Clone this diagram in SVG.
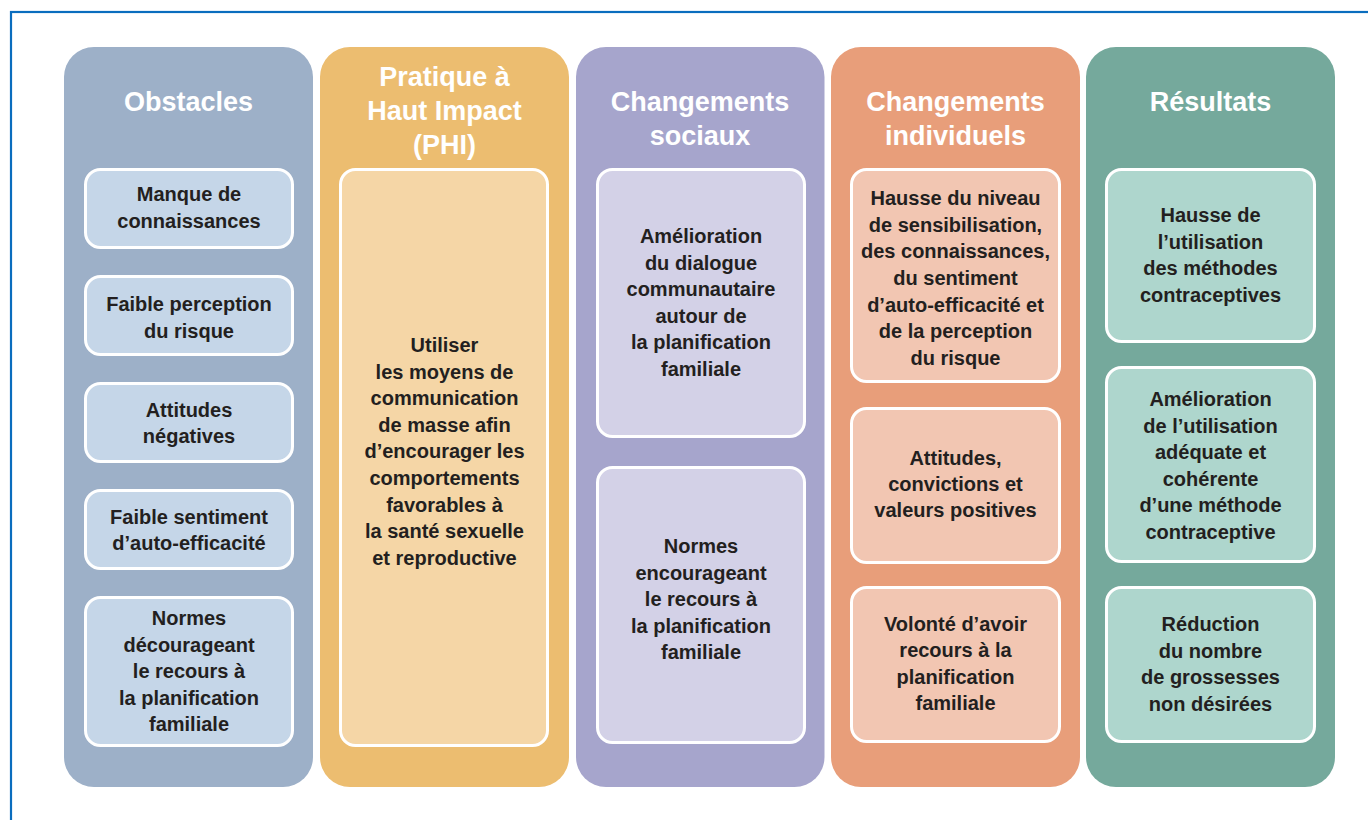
<svg xmlns="http://www.w3.org/2000/svg" width="1368" height="820" viewBox="0 0 1368 820">
<style>
.hd{font-family:"Liberation Sans",Arial,sans-serif;font-weight:bold;font-size:27px;fill:#ffffff;text-anchor:middle}
.tx{font-family:"Liberation Sans",Arial,sans-serif;font-weight:bold;font-size:20px;fill:#231f20;text-anchor:middle}
.box{stroke:#ffffff;stroke-width:3}
.c1{fill:#9db0c8}.b1{fill:#c5d6e8}
.c2{fill:#ecbd70}.b2{fill:#f5d6a6}
.c3{fill:#a6a5cc}.b3{fill:#d3d1e7}
.c4{fill:#e89e7a}.b4{fill:#f2c6b2}
.c5{fill:#75a99c}.b5{fill:#aed6cd}
</style>
<rect width="1368" height="820" fill="#ffffff"/>
<rect x="11" y="12" width="1400" height="900" fill="none" stroke="#0a6dbe" stroke-width="2.2"/>

<g id="obstacles">
<rect class="c1" x="64" y="47" width="249" height="740" rx="30"/>
<text class="hd" x="188.5" y="111">Obstacles</text>
<g id="obs1"><rect class="box b1" x="85.5" y="169.5" width="207" height="78" rx="15"/>
<text class="tx" x="189" y="201">Manque de</text><text class="tx" x="189" y="227.5">connaissances</text></g>
<g id="obs2"><rect class="box b1" x="85.5" y="276.5" width="207" height="78" rx="15"/>
<text class="tx" x="189" y="311">Faible perception</text><text class="tx" x="189" y="337.5">du risque</text></g>
<g id="obs3"><rect class="box b1" x="85.5" y="383.5" width="207" height="78" rx="15"/>
<text class="tx" x="189" y="417">Attitudes</text><text class="tx" x="189" y="443">négatives</text></g>
<g id="obs4"><rect class="box b1" x="85.5" y="490.5" width="207" height="78" rx="15"/>
<text class="tx" x="189" y="524">Faible sentiment</text><text class="tx" x="189" y="550">d’auto-efficacité</text></g>
<g id="obs5"><rect class="box b1" x="85.5" y="597.5" width="207" height="148" rx="15"/>
<text class="tx" x="189" y="625">Normes</text><text class="tx" x="189" y="651.5">décourageant</text><text class="tx" x="189" y="678">le recours à</text><text class="tx" x="189" y="704.5">la planification</text><text class="tx" x="189" y="731">familiale</text></g>
</g>

<g id="phi">
<rect class="c2" x="320" y="47" width="249" height="740" rx="30"/>
<text class="hd" x="444.5" y="86">Pratique à</text>
<text class="hd" x="444.5" y="120">Haut Impact</text>
<text class="hd" x="444.5" y="154">(PHI)</text>
<g id="phi1"><rect class="box b2" x="340.5" y="169.5" width="207" height="576" rx="15"/>
<text class="tx" x="444.5" y="352">Utiliser</text>
<text class="tx" x="444.5" y="378.6">les moyens de</text>
<text class="tx" x="444.5" y="405.2">communication</text>
<text class="tx" x="444.5" y="431.8">de masse afin</text>
<text class="tx" x="444.5" y="458.4">d’encourager les</text>
<text class="tx" x="444.5" y="485">comportements</text>
<text class="tx" x="444.5" y="511.6">favorables à</text>
<text class="tx" x="444.5" y="538.2">la santé sexuelle</text>
<text class="tx" x="444.5" y="564.8">et reproductive</text></g>
</g>

<g id="social">
<rect class="c3" x="576" y="47" width="248.5" height="740" rx="30"/>
<text class="hd" x="700" y="111">Changements</text>
<text class="hd" x="700" y="145">sociaux</text>
<g id="soc1"><rect class="box b3" x="597.5" y="169.5" width="207" height="267" rx="15"/>
<text class="tx" x="701" y="243">Amélioration</text>
<text class="tx" x="701" y="269.6">du dialogue</text>
<text class="tx" x="701" y="296.2">communautaire</text>
<text class="tx" x="701" y="322.8">autour de</text>
<text class="tx" x="701" y="349.4">la planification</text>
<text class="tx" x="701" y="376">familiale</text></g>
<g id="soc2"><rect class="box b3" x="597.5" y="467.5" width="207" height="275" rx="15"/>
<text class="tx" x="701" y="553">Normes</text>
<text class="tx" x="701" y="579.5">encourageant</text>
<text class="tx" x="701" y="606">le recours à</text>
<text class="tx" x="701" y="632.5">la planification</text>
<text class="tx" x="701" y="659">familiale</text></g>
</g>

<g id="individuel">
<rect class="c4" x="831" y="47" width="249" height="740" rx="30"/>
<text class="hd" x="955.5" y="111">Changements</text>
<text class="hd" x="955.5" y="145">individuels</text>
<g id="ind1"><rect class="box b4" x="851.5" y="169.5" width="208" height="212" rx="15"/>
<text class="tx" x="955.5" y="205">Hausse du niveau</text>
<text class="tx" x="955.5" y="231.7">de sensibilisation,</text>
<text class="tx" x="955.5" y="258.3">des connaissances,</text>
<text class="tx" x="955.5" y="285">du sentiment</text>
<text class="tx" x="955.5" y="311.7">d’auto-efficacité et</text>
<text class="tx" x="955.5" y="338.3">de la perception</text>
<text class="tx" x="955.5" y="365">du risque</text></g>
<g id="ind2"><rect class="box b4" x="851.5" y="408.5" width="208" height="154" rx="15"/>
<text class="tx" x="955.5" y="465">Attitudes,</text>
<text class="tx" x="955.5" y="491">convictions et</text>
<text class="tx" x="955.5" y="517">valeurs positives</text></g>
<g id="ind3"><rect class="box b4" x="851.5" y="587.5" width="208" height="154" rx="15"/>
<text class="tx" x="955.5" y="630.5">Volonté d’avoir</text>
<text class="tx" x="955.5" y="657">recours à la</text>
<text class="tx" x="955.5" y="683.5">planification</text>
<text class="tx" x="955.5" y="710">familiale</text></g>
</g>

<g id="resultats">
<rect class="c5" x="1086" y="47" width="249" height="740" rx="30"/>
<text class="hd" x="1210.5" y="111">Résultats</text>
<g id="res1"><rect class="box b5" x="1106.5" y="169.5" width="208" height="172" rx="15"/>
<text class="tx" x="1210.5" y="222">Hausse de</text>
<text class="tx" x="1210.5" y="248.5">l’utilisation</text>
<text class="tx" x="1210.5" y="275">des méthodes</text>
<text class="tx" x="1210.5" y="301.5">contraceptives</text></g>
<g id="res2"><rect class="box b5" x="1106.5" y="367.5" width="208" height="194" rx="15"/>
<text class="tx" x="1210.5" y="406">Amélioration</text>
<text class="tx" x="1210.5" y="432.5">de l’utilisation</text>
<text class="tx" x="1210.5" y="459">adéquate et</text>
<text class="tx" x="1210.5" y="485.5">cohérente</text>
<text class="tx" x="1210.5" y="512">d’une méthode</text>
<text class="tx" x="1210.5" y="538.5">contraceptive</text></g>
<g id="res3"><rect class="box b5" x="1106.5" y="587.5" width="208" height="154" rx="15"/>
<text class="tx" x="1210.5" y="631">Réduction</text>
<text class="tx" x="1210.5" y="657.5">du nombre</text>
<text class="tx" x="1210.5" y="684">de grossesses</text>
<text class="tx" x="1210.5" y="710.5">non désirées</text></g>
</g>

<g id="connectors"></g>
</svg>
